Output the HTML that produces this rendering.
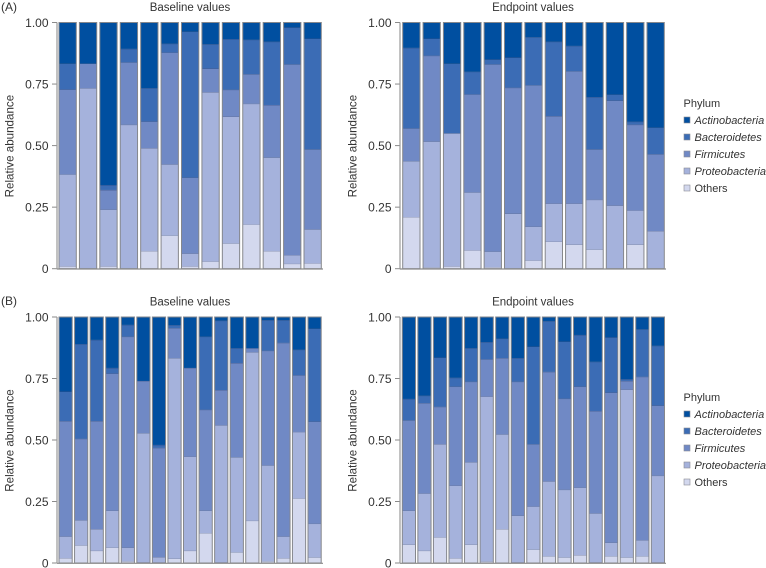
<!DOCTYPE html>
<html lang="en">
<head>
<meta charset="utf-8">
<title>Relative abundance by phylum</title>
<style>
html,body{margin:0;padding:0;background:#fff;width:766px;height:568px;overflow:hidden}
svg{display:block}
text{font-family:"Liberation Sans",sans-serif;fill:#333}
</style>
</head>
<body>
<svg id="chart" width="766" height="568" viewBox="0 0 766 568" xmlns="http://www.w3.org/2000/svg"></svg>
<script>
const seriesNames = ['Others', 'Proteobacteria', 'Firmicutes', 'Bacteroidetes', 'Actinobacteria'];
const legendOrder = ['Actinobacteria', 'Bacteroidetes', 'Firmicutes', 'Proteobacteria', 'Others'];
const tickValues = [0, 0.25, 0.5, 0.75, 1];
const tickLabels = ['0', '0.25', '0.50', '0.75', '1.00'];

const aBaseOthers = [.01,0,.01,0,.072,.135,.01,.03,.103,.18,.072,.02,.022];
const aBaseProteo = [.373,.733,.23,.585,.418,.289,.052,.687,.515,.49,.38,.035,.138];
const aBaseFirm = [.345,.1,.08,.253,.108,.454,.308,.096,.109,.12,.213,.775,.325];
const aBaseBact = [.105,0,.02,.055,.135,.036,.593,.099,.206,.14,.257,.15,.45];
const aBaseActino = [.167,.167,.66,.107,.267,.086,.037,.088,.067,.07,.078,.02,.065];

const aEndOthers = [.21,.006,.01,.075,.007,0,.034,.11,.098,.078,0,.098,0];
const aEndProteo = [.227,.511,.54,.235,.063,.224,.137,.155,.167,.202,.257,.139,.153];
const aEndFirm = [.133,.348,0,.398,.76,.511,.574,.355,.537,.205,.426,.348,.312];
const aEndBact = [.327,.07,.283,.092,.02,.123,.195,.302,.103,.212,.024,.012,.108];
const aEndActino = [.103,.065,.167,.2,.15,.142,.06,.078,.095,.303,.293,.403,.427];

const bBaseOthers = [.02,.072,.05,.063,.008,.003,.003,.018,.05,.122,.003,.044,.172,.008,.02,.263,.023];
const bBaseProteo = [.088,.102,.088,.15,.055,.525,.021,.815,.383,.091,.557,.386,.685,.389,.088,.27,.137];
const bBaseFirm = [.469,.331,.439,.557,.857,.212,.444,.122,.36,.41,.143,.383,.016,.466,.787,.23,.415];
const bBaseBact = [.12,.385,.33,.023,.048,0,.012,.012,0,.297,.282,.06,0,.124,.092,.104,.378];
const bBaseActino = [.303,.11,.093,.207,.032,.26,.52,.033,.207,.08,.015,.127,.127,.013,.013,.133,.047];

const bEndOthers = [.075,.05,.105,.02,.075,.007,.138,.003,.055,.028,.023,.032,.003,.028,.023,.028,.003];
const bEndProteo = [.138,.233,.378,.295,.335,.67,.385,.19,.175,.304,.275,.275,.199,.055,.682,.065,.352];
const bEndFirm = [.367,.367,.152,.402,.327,.151,.31,.544,.253,.445,.37,.41,.416,.61,.035,.664,.285];
const bEndBact = [.087,.03,.2,.036,.136,.07,.079,.096,.397,.206,.232,.21,.2,.224,.007,.193,.243];
const bEndActino = [.333,.32,.165,.247,.127,.102,.088,.167,.12,.017,.1,.073,.182,.083,.253,.05,.117];

const colors = {
  Others: '#d3d8ee',
  Proteobacteria: '#a5b2dc',
  Firmicutes: '#7089c5',
  Bacteroidetes: '#3b6cb5',
  Actinobacteria: '#004fa0'
};

const NS = 'http://www.w3.org/2000/svg';
const svg = document.getElementById('chart');

function make(tag, attrs, parent, text) {
  const el = document.createElementNS(NS, tag);
  for (const k in attrs) el.setAttribute(k, attrs[k]);
  if (text !== undefined) el.textContent = text;
  (parent || svg).appendChild(el);
  return el;
}

function drawPanel(p) {
  const group = make('g', {});
  
  

  const yScale = v => p.y0 + (p.y1 - p.y0) * v;
  const n = p.series[0].length;
  const pitch = (p.lastLeft - p.firstLeft) / (n - 1);
  const xScale = i => p.firstLeft + pitch * i;

  const title = make('text', {x: p.titleX, y: p.y1 - 11.5, 'text-anchor': 'middle', 'font-size': 11.5}, group, p.title);
  
  

  const yTitle = make('text', {
    x: 0, y: 0, 'text-anchor': 'middle', 'font-size': 11.6,
    transform: 'translate(' + p.yTitleX + ',' + ((p.y1 + p.y0) / 2 + 0.5) + ') rotate(-90)'
  }, group, 'Relative abundance');
  
  

  tickValues.forEach((v, i) => {
    const tick = make('line', {x1: p.axisX - 5, x2: p.axisX, y1: yScale(v), y2: yScale(v), stroke: '#8a8a8a', 'stroke-width': 1}, group);
    
    
    const label = make('text', {x: p.axisX - 8.5, y: yScale(v) + 4.3, 'text-anchor': 'end', 'font-size': 12}, group, tickLabels[i]);
    
    
  });

  for (let i = 0; i < n; i++) {
    let cum = 0;
    p.series.forEach((values, s) => {
      const v = values[i];
      if (v <= 0) return;
      const yTop = yScale(cum + v);
      const yBot = yScale(cum);
      cum += v;
      const rect = make('rect', {
        x: xScale(i), y: yTop, width: p.barWidth, height: yBot - yTop,
        fill: colors[seriesNames[s]]
      }, group);
      
      
      if (cum < 0.999) {
        const divider = make('line', {
          x1: xScale(i), x2: xScale(i) + p.barWidth, y1: yTop, y2: yTop,
          stroke: '#0b1f4a', 'stroke-opacity': 0.45, 'stroke-width': 0.8
        }, group);
        
        
      }
    });
    const outline = make('rect', {
      x: xScale(i), y: yScale(cum), width: p.barWidth, height: yScale(0) - yScale(cum),
      fill: 'none', stroke: '#85878c', 'stroke-width': 1
    }, group);
    
    
  }

  const yAxis = make('line', {x1: p.axisX, x2: p.axisX, y1: p.y1, y2: p.y0 + 0.5, stroke: '#9a9a9a', 'stroke-width': 1.2}, group);
  
  
  const xAxis = make('line', {x1: p.axisX, x2: p.xEnd, y1: p.y0 + 0.3, y2: p.y0 + 0.3, stroke: '#8a8a8a', 'stroke-width': 1.2}, group);
  
  
}

function drawLegend(x, top) {
  const group = make('g', {});
  
  
  const title = make('text', {x: x, y: top + 4, 'font-size': 11}, group, 'Phylum');
  
  
  legendOrder.forEach((name, i) => {
    const cy = top + 17 + i * 17;
    const swatch = make('rect', {x: x + 0.5, y: cy - 3, width: 6, height: 6, fill: colors[name], stroke: '#8a8d94', 'stroke-width': 0.6}, group);
    
    
    const attrs = {x: x + 11, y: cy + 3.8, 'font-size': 11};
    if (name !== 'Others') attrs['font-style'] = 'italic';
    const label = make('text', attrs, group, name);
    
    
  });
}

const tagA = make('text', {x: 1, y: 11, 'font-size': 12}, svg, '(A)');


const tagB = make('text', {x: 1, y: 305, 'font-size': 12}, svg, '(B)');



drawPanel({name: 'panel-a-baseline', title: 'Baseline values', titleX: 190, yTitleX: 13.5,
  y0: 268.7, y1: 22.5, axisX: 57, xEnd: 323, firstLeft: 59, lastLeft: 304, barWidth: 17.3,
  series: [aBaseOthers, aBaseProteo, aBaseFirm, aBaseBact, aBaseActino]});
drawPanel({name: 'panel-a-endpoint', title: 'Endpoint values', titleX: 533, yTitleX: 356.5,
  y0: 268.7, y1: 22.5, axisX: 400, xEnd: 666, firstLeft: 402.7, lastLeft: 647, barWidth: 17.3,
  series: [aEndOthers, aEndProteo, aEndFirm, aEndBact, aEndActino]});
drawPanel({name: 'panel-b-baseline', title: 'Baseline values', titleX: 190, yTitleX: 13.5,
  y0: 563, y1: 317, axisX: 57, xEnd: 323, firstLeft: 59, lastLeft: 308, barWidth: 13.2,
  series: [bBaseOthers, bBaseProteo, bBaseFirm, bBaseBact, bBaseActino]});
drawPanel({name: 'panel-b-endpoint', title: 'Endpoint values', titleX: 533, yTitleX: 356.5,
  y0: 563, y1: 317, axisX: 400, xEnd: 666, firstLeft: 402.3, lastLeft: 651.3, barWidth: 13.2,
  series: [bEndOthers, bEndProteo, bEndFirm, bEndBact, bEndActino]});

drawLegend(683.5, 103);
drawLegend(683.5, 397);
</script>
</body>
</html>
